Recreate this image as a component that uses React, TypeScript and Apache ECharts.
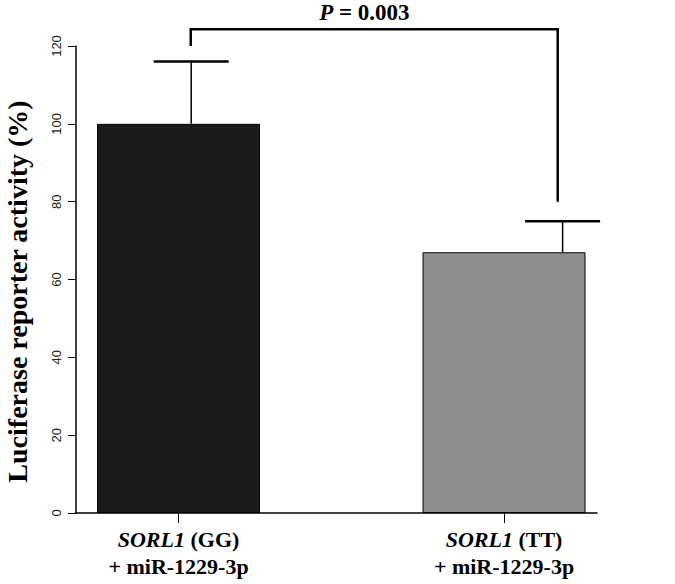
import React, { useEffect, useRef } from "react";
import * as echarts from "echarts";

// ---- data ----
const genotypes = ["GG", "TT"];
const geneName = "SORL1";
const treatment = "+ miR-1229-3p";
const barX = [1.5, 3.5];
const values = [100, 67];
const errorUpper = [116, 75];
const errorX = [1.578, 3.86];
const yTicks = [0, 20, 40, 60, 80, 100, 120];
const bracketX = [1.575, 3.83];
const bracketTop = 124.3;
const bracketBottoms = [120, 80];
const pLabel = "P";
const pValue = " = 0.003";
const yTitle = "Luciferase reporter activity (%)";

const SERIF = "'Liberation Serif', 'Times New Roman', serif";
const SANS = "'Liberation Sans', Arial, sans-serif";

export default function App() {
  const ref = useRef<HTMLDivElement>(null);

  useEffect(() => {
    if (!ref.current) return;
    const chart = echarts.init(ref.current, null, { renderer: "svg" });
    const barColors = ["#1b1b1b", "#8e8e8e"];

    const option: any = {
      animation: false,
      backgroundColor: "#ffffff",
      grid: { left: 76, right: 78, top: 46, bottom: 71, outerBoundsMode: "none", containLabel: false },
      xAxis: {
        type: "value",
        min: 0.87,
        max: 4.0713,
        splitLine: { show: false },
        axisLine: { show: true, lineStyle: { color: "#000", width: 1.5 } },
        axisTick: {
          show: true,
          customValues: barX,
          length: 10,
          lineStyle: { color: "#000", width: 1 },
        },
        axisLabel: {
          customValues: barX,
          margin: 13,
          formatter: (v: number) => {
            const i = barX.findIndex((b) => Math.abs(b - v) < 1e-6);
            if (i < 0) return "";
            return `{i|${geneName}}{b| (${genotypes[i]})}\n{b|${treatment}}`;
          },
          rich: {
            i: {
              fontFamily: SERIF,
              fontStyle: "italic",
              fontWeight: "bold",
              fontSize: 22,
              color: "#000",
              lineHeight: 27,
            },
            b: {
              fontFamily: SERIF,
              fontWeight: "bold",
              fontSize: 22,
              color: "#000",
              lineHeight: 27,
            },
          },
        },
      },
      yAxis: {
        type: "value",
        min: 0,
        max: 120,
        interval: 20,
        splitLine: { show: false },
        axisLine: { show: true, lineStyle: { color: "#000", width: 1.5 } },
        axisTick: { show: true, length: 8, lineStyle: { color: "#000", width: 1 } },
        axisLabel: {
          rotate: 90,
          margin: 13,
          fontFamily: SANS,
          fontSize: 13,
          color: "#222",
          customValues: yTicks,
        },
        name: yTitle,
        nameLocation: "middle",
        nameGap: 45,
        nameTextStyle: {
          fontFamily: SERIF,
          fontWeight: "bold",
          fontSize: 28,
          color: "#000",
          padding: [0, 24, 0, 0],
        },
      },
      series: [
        {
          type: "bar",
          barWidth: 163,
          data: barX.map((x, i) => ({
            value: [x, values[i]],
            itemStyle: { color: barColors[i], borderColor: "#000", borderWidth: 1 },
          })),
          z: 2,
        },
        {
          type: "custom",
          z: 3,
          encode: { x: 0, y: [1, 2] },
          data: errorX.map((x, i) => [x, values[i], errorUpper[i]]),
          renderItem: (params: any, api: any) => {
            const base = api.coord([api.value(0), api.value(1)]);
            const top = api.coord([api.value(0), api.value(2)]);
            return {
              type: "group",
              children: [
                {
                  type: "line",
                  shape: { x1: base[0], y1: base[1], x2: top[0], y2: top[1] },
                  style: { stroke: "#000", lineWidth: 1.5 },
                },
                {
                  type: "line",
                  shape: { x1: top[0] - 37.5, y1: top[1], x2: top[0] + 37.5, y2: top[1] },
                  style: { stroke: "#000", lineWidth: 2.5 },
                },
              ],
            };
          },
        },
        {
          type: "custom",
          z: 3,
          clip: false,
          encode: { x: [0, 1], y: [2, 3, 4] },
          data: [[bracketX[0], bracketX[1], bracketTop, bracketBottoms[0], bracketBottoms[1]]],
          renderItem: (params: any, api: any) => {
            const p1 = api.coord([api.value(0), api.value(3)]);
            const p2 = api.coord([api.value(0), api.value(2)]);
            const p3 = api.coord([api.value(1), api.value(2)]);
            const p4 = api.coord([api.value(1), api.value(4)]);
            const split = (p2[0] + p3[0]) / 2 - 41;
            const ty = p2[1] - 17;
            return {
              type: "group",
              children: [
                {
                  type: "polyline",
                  shape: { points: [p1, p2, p3, p4] },
                  style: { stroke: "#000", lineWidth: 2.5, fill: "none" },
                },
                {
                  type: "text",
                  x: split,
                  y: ty,
                  style: {
                    text: pLabel,
                    align: "right",
                    verticalAlign: "middle",
                    fontFamily: SERIF,
                    fontStyle: "italic",
                    fontWeight: "bold",
                    fontSize: 23,
                    fill: "#000",
                  },
                },
                {
                  type: "text",
                  x: split,
                  y: ty,
                  style: {
                    text: pValue,
                    align: "left",
                    verticalAlign: "middle",
                    fontFamily: SERIF,
                    fontWeight: "bold",
                    fontSize: 23,
                    fill: "#000",
                  },
                },
              ],
            };
          },
        },
      ],
    };

    chart.setOption(option);
    return () => chart.dispose();
  }, []);

  return (
    <div
      ref={ref}
      style={{ position: "absolute", left: 0, top: 0, width: 675, height: 584 }}
    />
  );
}
